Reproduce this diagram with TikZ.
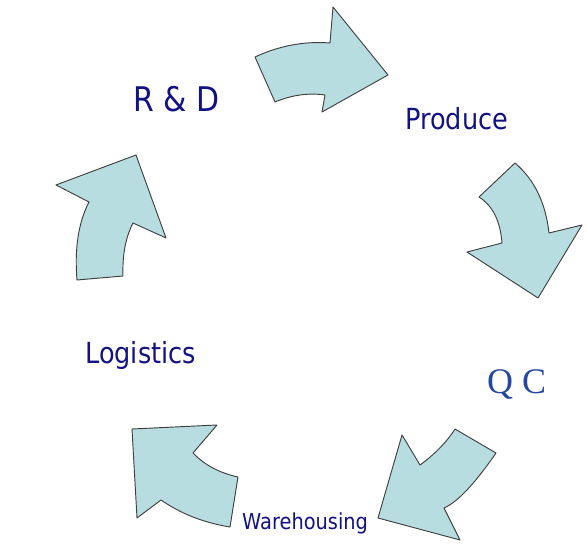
\documentclass[tikz,border=0pt]{standalone}
\usepackage{fontspec}
\setmainfont{Liberation Serif}
\newfontfamily\labelfont[FakeStretch=0.88]{DejaVu Sans}
\definecolor{arrowfill}{RGB}{183,221,225}
\definecolor{navytext}{RGB}{18,18,132}
\definecolor{qctext}{RGB}{36,72,160}
\begin{document}
\begin{tikzpicture}[x=0.03cm,y=-0.03cm,
	cyclearrow/.style={fill=arrowfill,draw=black!75,line width=0.8pt,line join=round},
	lbl/.style={inner sep=0pt,anchor=base west,text=navytext}]
			\useasboundingbox (0,0) rectangle (587,544);
			% arrows of the cycle
			\draw[cyclearrow] (255,57) .. controls (279.3,45.7) and (304.3,41) .. (330,43) -- (333,7) -- (388,75) -- (322,112) -- (325,95) .. controls (308.3,92.7) and (291.7,95) .. (275,102) -- cycle;
			\draw[cyclearrow] (515,163) .. controls (534.4,179.6) and (545.7,203) .. (549,233) -- (582,225) -- (538,298) -- (467,252) -- (502,243) .. controls (500.3,221) and (492.7,205.7) .. (479,197) -- cycle;
			\draw[cyclearrow] (496,453) .. controls (474.6,484) and (457.3,502.3) .. (444,508) -- (460,540) -- (378,518) -- (402,435) -- (420,465) .. controls (434.7,454.3) and (446.4,442.3) .. (455,429) -- cycle;
			\draw[cyclearrow] (132,429) -- (217,425) -- (193,453) .. controls (204.6,465) and (219.6,473) .. (238,477) -- (230,527) .. controls (203.7,522.7) and (180.7,513.7) .. (161,500) -- (137,518) -- cycle;
			\draw[cyclearrow] (77,280) .. controls (74.4,248.6) and (78.4,222.6) .. (89,202) -- (56,185) -- (136,155) -- (166,238) -- (133,223) .. controls (125.6,237.3) and (122.3,255) .. (123,276) -- cycle;
			% labels
			\node[lbl,font=\labelfont\fontsize{29pt}{29pt}\selectfont] (rd) at (133,112) {R \& D};
			\node[lbl,font=\labelfont\fontsize{24.8pt}{24.8pt}\selectfont] (produce) at (405,130) {Produce};
			\node[lbl,text=qctext,font=\fontsize{30.7pt}{30.7pt}\selectfont] (qc) at (487,393) {Q C};
			\node[lbl,font=\labelfont\fontsize{18.8pt}{18.8pt}\selectfont] (warehousing) at (242,529) {Warehousing};
			\node[lbl,font=\labelfont\fontsize{24.8pt}{24.8pt}\selectfont] (logistics) at (85,363) {Logistics};
		\end{tikzpicture}
\end{document}
